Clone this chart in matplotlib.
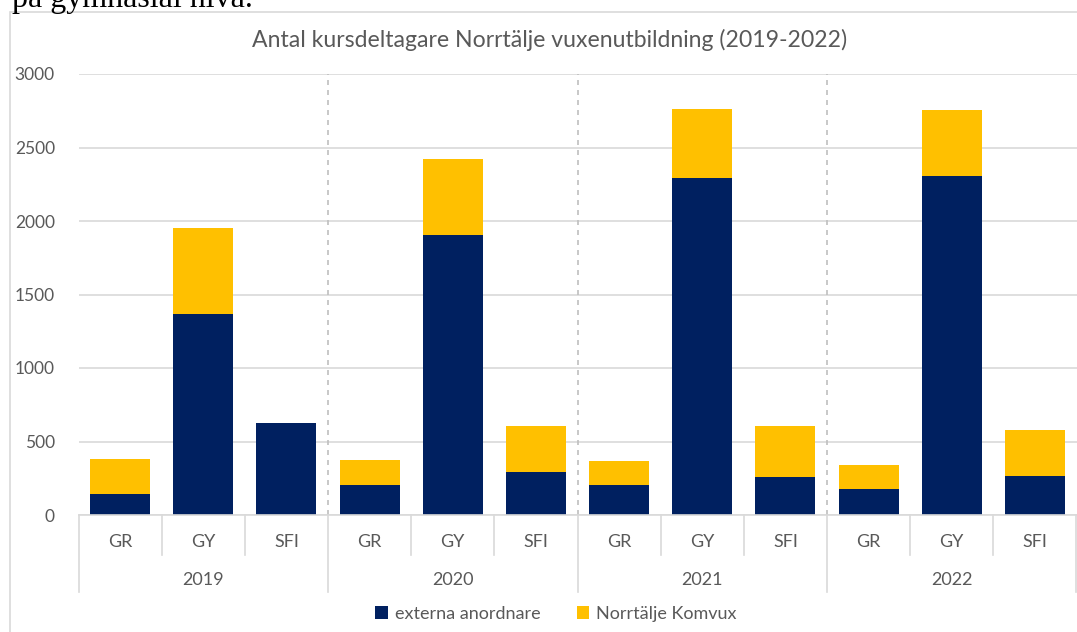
import matplotlib.pyplot as plt
import matplotlib.transforms as mtransforms
from matplotlib.patches import Rectangle
import numpy as np

plt.rcParams['font.family'] = ['Lato', 'DejaVu Sans']

# %% data
years = ['2019', '2020', '2021', '2022']
levels = ['GR', 'GY', 'SFI']
externa = [143, 1370, 625,
           205, 1905, 292,
           204, 2293, 259,
           177, 2306, 265]
total = [380, 1955, 625,
         375, 2420, 605,
         367, 2762, 605,
         340, 2755, 578]
komvux = [t - e for t, e in zip(total, externa)]
yticks = [0, 500, 1000, 1500, 2000, 2500, 3000]

navy = '#002060'
gold = '#FFC000'
txt = '#595959'
grid = '#D9D9D9'

W, H = 1077, 632
f = plt.figure(figsize=(W / 100, H / 100), dpi=100)

# text above the chart (cut off in the screenshot)
f.text(12 / W, 1 - 7 / H, 'på gymnasial nivå.', family='Liberation Serif',
       fontsize=23, color='black', va='baseline', ha='left')

# chart frame
f.patches.append(Rectangle((10 / W, -0.1), 1.1, 1 - 12 / H + 0.1,
                           transform=f.transFigure, fill=False,
                           edgecolor=grid, linewidth=1.2))

ax = f.add_axes([78.5 / W, 1 - 515 / H, 998 / W, 441 / H])
x = np.arange(len(externa))
ax.bar(x, externa, width=0.72, color=navy, label='externa anordnare', zorder=3)
ax.bar(x, komvux, width=0.72, bottom=externa, color=gold,
       label='Norrtälje Komvux', zorder=3)

ax.set_xlim(-0.5, len(x) - 0.5)
ax.set_ylim(0, 3000)
ax.set_yticks(yticks)
ax.set_yticklabels([str(v) for v in yticks], color=txt, fontsize=12.5)
ax.tick_params(axis='y', length=0, pad=17)
ax.set_xticks([])
ax.yaxis.grid(True, color=grid, linewidth=1.2, zorder=0)
for s in ax.spines.values():
    s.set_visible(False)

f.text(550 / W, 1 - 40 / H,
       'Antal kursdeltagare Norrtälje vuxenutbildning (2019-2022)',
       color=txt, fontsize=16.6, ha='center', va='center')

# category axis
tr = mtransforms.blended_transform_factory(ax.transData, ax.transAxes)
ax.plot([-0.5, len(x) - 0.5], [0, 0], color=grid, lw=1.2, transform=tr,
        clip_on=False, zorder=4)
n = len(levels)
for k in range(len(x) + 1):
    xb = k - 0.5
    if k % n == 0:
        ax.plot([xb, xb], [0, -0.1746], color=grid, lw=1.2, transform=tr,
                clip_on=False)
        if 0 < k < len(x):
            ax.plot([xb, xb], [0, 1], color='#BFBFBF', lw=1.2,
                    ls=(0, (3, 3)), transform=tr, clip_on=False, zorder=2)
    else:
        ax.plot([xb, xb], [0, -0.0907], color=grid, lw=1.2, transform=tr,
                clip_on=False)
for i in range(len(x)):
    ax.text(i, -0.061, levels[i % n], transform=tr, ha='center', va='center',
            color=txt, fontsize=13)
for g, yr in enumerate(years):
    ax.text(g * n + (n - 1) / 2, -0.147, yr, transform=tr, ha='center',
            va='center', color=txt, fontsize=13)

f.legend(loc='center', bbox_to_anchor=(556 / W, 1 - 614 / H), ncol=2,
         frameon=False, fontsize=13, labelcolor=txt, handlelength=0.7,
         handleheight=0.7, handletextpad=0.4, columnspacing=2.0)

f.savefig('out.png', dpi=100)
